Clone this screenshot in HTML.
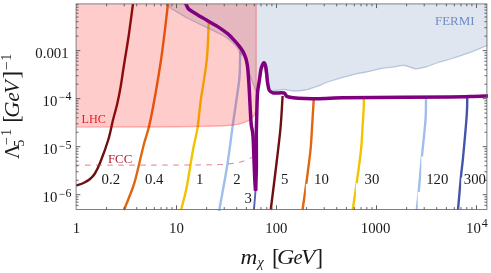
<!DOCTYPE html>
<html><head><meta charset="utf-8"><title>plot</title>
<style>
html,body{margin:0;padding:0;background:#fff;}
body{width:491px;height:273px;overflow:hidden;font-family:"Liberation Serif",serif;}
svg{display:block;position:absolute;left:0;top:0;}
text{font-family:"Liberation Serif",serif;}
</style></head><body>
<svg width="491" height="273" viewBox="0 0 491 273">
<rect x="0" y="0" width="491" height="273" fill="#ffffff"/>
<defs><clipPath id="cp"><rect x="76.1" y="3.9" width="412.1" height="207.0"/></clipPath></defs>
<g clip-path="url(#cp)">
<path d="M133.00 3.80 C132.30 9.00 130.17 25.63 128.80 35.00 C127.43 44.37 125.73 54.17 124.80 60.00 C123.87 65.83 123.90 65.50 123.20 70.00 C122.50 74.50 121.60 81.33 120.60 87.00 C119.60 92.67 118.47 98.50 117.20 104.00 C115.93 109.50 114.50 114.00 113.00 120.00 C111.50 126.00 110.33 132.92 108.20 140.00 C106.07 147.08 102.44 156.88 100.20 162.50 C97.96 168.12 96.49 170.96 94.75 173.75 C93.01 176.54 91.62 177.71 89.75 179.25 C87.88 180.79 85.79 181.94 83.50 183.00 C81.21 184.06 77.25 185.17 76.00 185.60" fill="none" stroke="#6e1010" stroke-width="2.4"/>
<path d="M168.00 3.80 C166.83 13.17 163.92 40.63 161.00 60.00 C158.08 79.37 153.38 105.83 150.50 120.00 C147.62 134.17 146.03 135.83 143.70 145.00 C141.37 154.17 138.33 167.83 136.50 175.00 C134.67 182.17 134.78 182.17 132.70 188.00 C130.62 193.83 125.45 206.33 124.00 210.00" fill="none" stroke="#e0660f" stroke-width="2.4"/>
<path d="M208.75 22.00 C208.42 28.33 208.07 47.00 206.75 60.00 C205.43 73.00 202.34 88.67 200.80 100.00 C199.26 111.33 198.80 119.67 197.50 128.00 C196.20 136.33 194.83 140.00 193.00 150.00 C191.17 160.00 188.50 178.00 186.50 188.00 C184.50 198.00 181.92 206.33 181.00 210.00" fill="none" stroke="#f2c400" stroke-width="2.4"/>
<path d="M240.50 51.00 C240.42 52.50 240.22 55.17 240.00 60.00 C239.78 64.83 240.40 69.17 239.20 80.00 C238.00 90.83 234.78 110.83 232.80 125.00 C230.82 139.17 229.43 151.50 227.30 165.00 C225.17 178.50 221.33 198.50 220.00 206.00 C218.67 213.50 219.42 209.33 219.30 210.00" fill="none" stroke="#9fbeeb" stroke-width="2.4"/>
<path d="M255.60 190.00 L253.90 210.00" fill="none" stroke="#5462b4" stroke-width="1.9"/>
<path d="M282.60 96.00 C282.25 101.33 281.55 116.50 280.50 128.00 C279.45 139.50 277.93 151.33 276.30 165.00 C274.67 178.67 271.63 202.50 270.70 210.00" fill="none" stroke="#6e1010" stroke-width="2.4"/>
<path d="M313.75 99.00 C313.46 103.83 312.54 119.50 312.00 128.00 C311.46 136.50 311.46 140.71 310.50 150.00 C309.54 159.29 307.58 173.75 306.25 183.75 C304.92 193.75 303.12 205.62 302.50 210.00" fill="none" stroke="#e0660f" stroke-width="2.4"/>
<path d="M363.70 98.00 C363.72 99.33 364.00 101.00 363.80 106.00 C363.60 111.00 362.97 120.67 362.50 128.00 C362.03 135.33 361.98 140.71 361.00 150.00 C360.02 159.29 357.98 173.75 356.60 183.75 C355.22 193.75 353.35 205.62 352.70 210.00" fill="none" stroke="#f2c400" stroke-width="2.4"/>
<path d="M426.00 98.00 C425.92 101.67 426.21 110.00 425.50 120.00 C424.79 130.00 422.88 146.17 421.75 158.00 C420.62 169.83 419.58 182.33 418.75 191.00 C417.92 199.67 417.08 206.83 416.75 210.00" fill="none" stroke="#9fbeeb" stroke-width="2.4"/>
<path d="M467.25 97.00 C467.17 100.00 467.46 104.83 466.75 115.00 C466.04 125.17 463.96 147.83 463.00 158.00 C462.04 168.17 461.83 167.33 461.00 176.00 C460.17 184.67 458.50 204.33 458.00 210.00" fill="none" stroke="#4454a8" stroke-width="2.4"/>
<rect x="305.85" y="183.85" width="8.00" height="30.00" fill="#ffffff"/>
<rect x="355.90" y="183.40" width="8.00" height="30.00" fill="#ffffff"/>
<rect x="421.30" y="156.40" width="5.00" height="35.20" fill="#ffffff"/>
<rect x="417.70" y="191.90" width="6.00" height="20.00" fill="#ffffff"/>
<rect x="461.30" y="177.60" width="2.40" height="34.00" fill="#ffffff"/>
<path d="M76.00 165.10 C88.33 165.10 128.83 165.13 150.00 165.10 C171.17 165.07 191.22 165.00 203.00 164.90 C214.78 164.80 215.87 164.73 220.70 164.50 C225.53 164.27 228.45 163.98 232.00 163.50 C235.55 163.02 238.88 162.52 242.00 161.60 C245.12 160.68 248.87 158.85 250.70 158.00 C252.53 157.15 252.62 156.75 253.00 156.50" fill="none" stroke="#cc3346" stroke-opacity="0.7" stroke-width="0.9" stroke-dasharray="5.5 5.5" stroke-dashoffset="1.8"/>
<path d="M167.00 3.80 C167.67 4.55 169.67 7.12 171.00 8.30 C172.33 9.48 173.50 10.00 175.00 10.90 C176.50 11.80 178.33 12.73 180.00 13.70 C181.67 14.67 182.98 15.57 185.00 16.70 C187.02 17.83 189.72 19.28 192.10 20.50 C194.48 21.72 196.92 22.87 199.30 24.00 C201.68 25.13 204.02 26.18 206.40 27.30 C208.78 28.42 211.22 29.53 213.60 30.70 C215.98 31.87 218.32 32.98 220.70 34.30 C223.08 35.62 225.75 37.05 227.90 38.60 C230.05 40.15 231.93 41.93 233.60 43.60 C235.27 45.27 236.80 46.95 237.90 48.60 C239.00 50.25 239.27 52.27 240.20 53.50 C241.13 54.73 242.53 54.75 243.50 56.00 C244.47 57.25 245.25 58.67 246.00 61.00 C246.75 63.33 247.17 67.17 248.00 70.00 C248.83 72.83 250.00 75.33 251.00 78.00 C252.00 80.67 253.17 83.83 254.00 86.00 C254.83 88.17 255.37 90.67 256.00 91.00 C256.63 91.33 257.13 90.17 257.80 88.00 C258.47 85.83 259.12 82.00 260.00 78.00 C260.88 74.00 261.92 63.33 263.10 64.00 C264.28 64.67 266.10 77.67 267.10 82.00 C268.10 86.33 267.78 88.58 269.10 90.00 C270.42 91.42 272.52 90.58 275.00 90.50 C277.48 90.42 281.00 89.42 284.00 89.50 C287.00 89.58 289.50 90.92 293.00 91.00 C296.50 91.08 300.92 90.79 305.00 90.00 C309.08 89.21 313.33 87.71 317.50 86.25 C321.67 84.79 323.75 83.26 330.00 81.25 C336.25 79.24 348.67 75.79 355.00 74.20 C361.33 72.61 363.75 72.62 368.00 71.70 C372.25 70.78 376.33 69.47 380.50 68.70 C384.67 67.93 389.04 67.63 393.00 67.10 C396.96 66.57 400.50 65.22 404.25 65.50 C408.00 65.78 411.96 68.50 415.50 68.75 C419.04 69.00 421.75 68.04 425.50 67.00 C429.25 65.96 433.42 63.96 438.00 62.50 C442.58 61.04 448.00 59.80 453.00 58.25 C458.00 56.70 462.25 55.36 468.00 53.20 C473.75 51.04 484.25 46.62 487.50 45.30 L486.9 3.9 L167.0 3.9 Z" fill="rgb(94,129,181)" fill-opacity="0.2" stroke="none"/>
<path d="M167.00 3.80 C167.67 4.55 169.67 7.12 171.00 8.30 C172.33 9.48 173.50 10.00 175.00 10.90 C176.50 11.80 178.33 12.73 180.00 13.70 C181.67 14.67 182.98 15.57 185.00 16.70 C187.02 17.83 189.72 19.28 192.10 20.50 C194.48 21.72 196.92 22.87 199.30 24.00 C201.68 25.13 204.02 26.18 206.40 27.30 C208.78 28.42 211.22 29.53 213.60 30.70 C215.98 31.87 218.32 32.98 220.70 34.30 C223.08 35.62 225.75 37.05 227.90 38.60 C230.05 40.15 231.93 41.93 233.60 43.60 C235.27 45.27 236.80 46.95 237.90 48.60 C239.00 50.25 239.27 52.27 240.20 53.50 C241.13 54.73 242.53 54.75 243.50 56.00 C244.47 57.25 245.25 58.67 246.00 61.00 C246.75 63.33 247.17 67.17 248.00 70.00 C248.83 72.83 250.00 75.33 251.00 78.00 C252.00 80.67 253.17 83.83 254.00 86.00 C254.83 88.17 255.37 90.67 256.00 91.00 C256.63 91.33 257.13 90.17 257.80 88.00 C258.47 85.83 259.12 82.00 260.00 78.00 C260.88 74.00 261.92 63.33 263.10 64.00 C264.28 64.67 266.10 77.67 267.10 82.00 C268.10 86.33 267.78 88.58 269.10 90.00 C270.42 91.42 272.52 90.58 275.00 90.50 C277.48 90.42 281.00 89.42 284.00 89.50 C287.00 89.58 289.50 90.92 293.00 91.00 C296.50 91.08 300.92 90.79 305.00 90.00 C309.08 89.21 313.33 87.71 317.50 86.25 C321.67 84.79 323.75 83.26 330.00 81.25 C336.25 79.24 348.67 75.79 355.00 74.20 C361.33 72.61 363.75 72.62 368.00 71.70 C372.25 70.78 376.33 69.47 380.50 68.70 C384.67 67.93 389.04 67.63 393.00 67.10 C396.96 66.57 400.50 65.22 404.25 65.50 C408.00 65.78 411.96 68.50 415.50 68.75 C419.04 69.00 421.75 68.04 425.50 67.00 C429.25 65.96 433.42 63.96 438.00 62.50 C442.58 61.04 448.00 59.80 453.00 58.25 C458.00 56.70 462.25 55.36 468.00 53.20 C473.75 51.04 484.25 46.62 487.50 45.30" fill="none" stroke="rgb(94,129,181)" stroke-opacity="0.38" stroke-width="1.3"/>
<path d="M76.1 3.9 L256.2 3.9 L256.2 108 C256.2 118 248 124.7 225 125.7 C200 126.6 150 127.0 76.1 127.1 Z" fill="rgb(255,0,0)" fill-opacity="0.2" stroke="none"/>
<path d="M256.2 3.9 L256.2 3.9 L256.2 108 C256.2 118 248 124.7 225 125.7 C200 126.6 150 127.0 76.1 127.1" fill="none" stroke="rgb(255,0,0)" stroke-opacity="0.27" stroke-width="1.4"/>
<path d="M185.60 3.30 C185.83 3.80 186.55 5.42 187.00 6.30 C187.45 7.18 187.75 7.93 188.30 8.60 C188.85 9.27 189.43 9.68 190.30 10.30 C191.17 10.92 192.00 11.37 193.50 12.30 C195.00 13.23 197.15 14.63 199.30 15.90 C201.45 17.17 204.02 18.52 206.40 19.90 C208.78 21.28 211.22 22.75 213.60 24.20 C215.98 25.65 218.32 26.98 220.70 28.60 C223.08 30.22 225.75 32.07 227.90 33.90 C230.05 35.73 231.82 37.70 233.60 39.60 C235.38 41.50 237.15 43.48 238.60 45.30 C240.05 47.12 241.30 48.88 242.30 50.50 C243.30 52.12 243.93 53.42 244.60 55.00 C245.27 56.58 245.78 57.83 246.30 60.00 C246.82 62.17 247.25 63.83 247.70 68.00 C248.15 72.17 248.57 78.00 249.00 85.00 C249.43 92.00 249.92 103.33 250.30 110.00 C250.68 116.67 250.85 120.67 251.30 125.00 C251.75 129.33 252.52 129.33 253.00 136.00 C253.48 142.67 253.90 157.67 254.20 165.00 C254.50 172.33 254.58 175.72 254.80 180.00 C255.02 184.28 255.38 188.92 255.50 190.70" fill="none" stroke="#800080" stroke-width="3.5" stroke-linejoin="round"/>
<path d="M255.70 190.70 C255.75 188.92 255.88 184.28 256.00 180.00 C256.12 175.72 256.35 172.33 256.40 165.00 C256.45 157.67 256.28 142.67 256.30 136.00 C256.32 129.33 256.38 130.17 256.50 125.00 C256.62 119.83 256.82 110.50 257.00 105.00 C257.18 99.50 257.20 96.17 257.60 92.00 C258.00 87.83 258.86 83.67 259.40 80.00 C259.94 76.33 260.35 72.50 260.85 70.00 C261.35 67.50 261.86 66.20 262.40 65.00 C262.94 63.80 263.55 62.55 264.10 62.80 C264.65 63.05 265.25 64.47 265.70 66.50 C266.15 68.53 266.48 72.25 266.80 75.00 C267.12 77.75 267.17 80.42 267.60 83.00 C268.03 85.58 268.45 88.83 269.40 90.50 C270.35 92.17 270.87 92.58 273.30 93.00 C275.73 93.42 281.43 92.33 284.00 93.00 C286.57 93.67 283.95 96.04 288.70 97.00 C293.45 97.96 303.53 98.62 312.50 98.75 C321.47 98.88 327.42 98.04 342.50 97.80 C357.58 97.56 385.08 97.45 403.00 97.30 C420.92 97.15 438.83 97.02 450.00 96.90 C461.17 96.78 463.63 96.75 470.00 96.60 C476.37 96.45 485.17 96.10 488.20 96.00" fill="none" stroke="#800080" stroke-width="3.5" stroke-linejoin="round"/>
</g>
<rect x="76.1" y="3.9" width="410.8" height="205.6" fill="none" stroke="#6c6c6c" stroke-width="0.85"/>
<path d="M106.60 209.50 v-2.40 M106.60 3.90 v2.40 M124.21 209.50 v-2.40 M124.21 3.90 v2.40 M136.71 209.50 v-2.40 M136.71 3.90 v2.40 M146.40 209.50 v-2.40 M146.40 3.90 v2.40 M154.32 209.50 v-2.40 M154.32 3.90 v2.40 M161.01 209.50 v-2.40 M161.01 3.90 v2.40 M166.81 209.50 v-2.40 M166.81 3.90 v2.40 M171.92 209.50 v-2.40 M171.92 3.90 v2.40 M176.50 209.50 v-4.20 M176.50 3.90 v4.20 M206.60 209.50 v-2.40 M206.60 3.90 v2.40 M224.21 209.50 v-2.40 M224.21 3.90 v2.40 M236.71 209.50 v-2.40 M236.71 3.90 v2.40 M246.40 209.50 v-2.40 M246.40 3.90 v2.40 M254.32 209.50 v-2.40 M254.32 3.90 v2.40 M261.01 209.50 v-2.40 M261.01 3.90 v2.40 M266.81 209.50 v-2.40 M266.81 3.90 v2.40 M271.92 209.50 v-2.40 M271.92 3.90 v2.40 M276.50 209.50 v-4.20 M276.50 3.90 v4.20 M306.60 209.50 v-2.40 M306.60 3.90 v2.40 M324.21 209.50 v-2.40 M324.21 3.90 v2.40 M336.71 209.50 v-2.40 M336.71 3.90 v2.40 M346.40 209.50 v-2.40 M346.40 3.90 v2.40 M354.32 209.50 v-2.40 M354.32 3.90 v2.40 M361.01 209.50 v-2.40 M361.01 3.90 v2.40 M366.81 209.50 v-2.40 M366.81 3.90 v2.40 M371.92 209.50 v-2.40 M371.92 3.90 v2.40 M376.50 209.50 v-4.20 M376.50 3.90 v4.20 M406.60 209.50 v-2.40 M406.60 3.90 v2.40 M424.21 209.50 v-2.40 M424.21 3.90 v2.40 M436.71 209.50 v-2.40 M436.71 3.90 v2.40 M446.40 209.50 v-2.40 M446.40 3.90 v2.40 M454.32 209.50 v-2.40 M454.32 3.90 v2.40 M461.01 209.50 v-2.40 M461.01 3.90 v2.40 M466.81 209.50 v-2.40 M466.81 3.90 v2.40 M471.92 209.50 v-2.40 M471.92 3.90 v2.40 M476.50 209.50 v-4.20 M476.50 3.90 v4.20 M76.10 205.36 h2.40 M486.85 205.36 h-2.40 M76.10 202.14 h2.40 M486.85 202.14 h-2.40 M76.10 199.35 h2.40 M486.85 199.35 h-2.40 M76.10 196.90 h2.40 M486.85 196.90 h-2.40 M76.10 194.70 h4.20 M486.85 194.70 h-4.20 M76.10 180.24 h2.40 M486.85 180.24 h-2.40 M76.10 171.78 h2.40 M486.85 171.78 h-2.40 M76.10 165.78 h2.40 M486.85 165.78 h-2.40 M76.10 161.13 h2.40 M486.85 161.13 h-2.40 M76.10 157.33 h2.40 M486.85 157.33 h-2.40 M76.10 154.11 h2.40 M486.85 154.11 h-2.40 M76.10 151.32 h2.40 M486.85 151.32 h-2.40 M76.10 148.87 h2.40 M486.85 148.87 h-2.40 M76.10 146.67 h4.20 M486.85 146.67 h-4.20 M76.10 132.21 h2.40 M486.85 132.21 h-2.40 M76.10 123.75 h2.40 M486.85 123.75 h-2.40 M76.10 117.75 h2.40 M486.85 117.75 h-2.40 M76.10 113.10 h2.40 M486.85 113.10 h-2.40 M76.10 109.30 h2.40 M486.85 109.30 h-2.40 M76.10 106.08 h2.40 M486.85 106.08 h-2.40 M76.10 103.29 h2.40 M486.85 103.29 h-2.40 M76.10 100.84 h2.40 M486.85 100.84 h-2.40 M76.10 98.64 h4.20 M486.85 98.64 h-4.20 M76.10 84.18 h2.40 M486.85 84.18 h-2.40 M76.10 75.72 h2.40 M486.85 75.72 h-2.40 M76.10 69.72 h2.40 M486.85 69.72 h-2.40 M76.10 65.07 h2.40 M486.85 65.07 h-2.40 M76.10 61.27 h2.40 M486.85 61.27 h-2.40 M76.10 58.05 h2.40 M486.85 58.05 h-2.40 M76.10 55.26 h2.40 M486.85 55.26 h-2.40 M76.10 52.81 h2.40 M486.85 52.81 h-2.40 M76.10 50.61 h4.20 M486.85 50.61 h-4.20 M76.10 36.15 h2.40 M486.85 36.15 h-2.40 M76.10 27.69 h2.40 M486.85 27.69 h-2.40 M76.10 21.69 h2.40 M486.85 21.69 h-2.40 M76.10 17.04 h2.40 M486.85 17.04 h-2.40 M76.10 13.24 h2.40 M486.85 13.24 h-2.40 M76.10 10.02 h2.40 M486.85 10.02 h-2.40 M76.10 7.23 h2.40 M486.85 7.23 h-2.40 M76.10 4.78 h2.40 M486.85 4.78 h-2.40" fill="none" stroke="#505050" stroke-width="0.9"/>
<g opacity="0.999">
<text transform="translate(76.40,232.70) scale(0.950,1)" font-size="15.60" text-anchor="middle" fill="#1a1a1a" >1</text>
<text transform="translate(176.40,232.70) scale(0.950,1)" font-size="15.60" text-anchor="middle" fill="#1a1a1a" >10</text>
<text transform="translate(276.40,232.70) scale(0.950,1)" font-size="15.60" text-anchor="middle" fill="#1a1a1a" >100</text>
<text transform="translate(375.60,232.70) scale(0.950,1)" font-size="15.60" text-anchor="middle" fill="#1a1a1a" >1000</text>
<text transform="translate(466.00,232.70) scale(0.950,1)" font-size="15.60" text-anchor="start" fill="#1a1a1a" >10</text>
<text x="481.82" y="227.10" font-size="12.00" fill="#1a1a1a">4</text>
<text transform="translate(68.60,58.30) scale(0.950,1)" font-size="15.60" text-anchor="end" fill="#1a1a1a" >0.001</text>
<text transform="translate(42.60,105.70) scale(0.950,1)" font-size="15.60" text-anchor="start" fill="#1a1a1a" >10</text>
<text transform="translate(59.02,101.20) scale(0.92,1)" font-size="12.00" fill="#1a1a1a">−</text>
<text x="65.50" y="100.10" font-size="12.00" fill="#1a1a1a">4</text>
<text transform="translate(42.60,154.40) scale(0.950,1)" font-size="15.60" text-anchor="start" fill="#1a1a1a" >10</text>
<text transform="translate(59.02,149.90) scale(0.92,1)" font-size="12.00" fill="#1a1a1a">−</text>
<text x="65.50" y="148.80" font-size="12.00" fill="#1a1a1a">5</text>
<text transform="translate(42.60,202.40) scale(0.950,1)" font-size="15.60" text-anchor="start" fill="#1a1a1a" >10</text>
<text transform="translate(59.02,197.90) scale(0.92,1)" font-size="12.00" fill="#1a1a1a">−</text>
<text x="65.50" y="196.80" font-size="12.00" fill="#1a1a1a">6</text>
<text transform="translate(101.60,184.00) scale(0.950,1)" font-size="15.60" text-anchor="start" fill="#1a1a1a" >0.2</text>
<text transform="translate(145.00,184.00) scale(0.950,1)" font-size="15.60" text-anchor="start" fill="#1a1a1a" >0.4</text>
<text transform="translate(195.90,183.90) scale(0.950,1)" font-size="15.60" text-anchor="start" fill="#1a1a1a" >1</text>
<text transform="translate(233.30,183.90) scale(0.950,1)" font-size="15.60" text-anchor="start" fill="#1a1a1a" >2</text>
<text transform="translate(244.40,203.40) scale(0.950,1)" font-size="15.60" text-anchor="start" fill="#1a1a1a" >3</text>
<text transform="translate(281.00,183.90) scale(0.950,1)" font-size="15.60" text-anchor="start" fill="#1a1a1a" >5</text>
<text transform="translate(314.00,183.90) scale(0.950,1)" font-size="15.60" text-anchor="start" fill="#1a1a1a" >10</text>
<text transform="translate(364.50,183.90) scale(0.950,1)" font-size="15.60" text-anchor="start" fill="#1a1a1a" >30</text>
<text transform="translate(426.20,183.90) scale(0.950,1)" font-size="15.60" text-anchor="start" fill="#1a1a1a" >120</text>
<text transform="translate(463.80,183.90) scale(0.950,1)" font-size="15.60" text-anchor="start" fill="#1a1a1a" >300</text>
<text transform="translate(81.50,123.00) scale(1.000,1)" font-size="12.20" text-anchor="start" fill="#f4161e" >LHC</text>
<text transform="translate(107.90,163.40) scale(1.000,1)" font-size="12.90" text-anchor="start" fill="#b41e2e" >FCC</text>
<text transform="translate(434.90,24.70) scale(1.000,1)" font-size="13.00" text-anchor="start" fill="rgb(110,142,196)" >FERMI</text>
<g fill="#1a1a1a">
<text x="240.5" y="263.9" font-size="20.5" font-style="italic" textLength="16.8" lengthAdjust="spacingAndGlyphs">m</text>
<text transform="translate(257.60,266.80) scale(1.000,1)" font-size="14.2" font-style="italic">χ</text>
<text transform="translate(271.90,265.00) scale(1.000,1)" font-size="22.8">[</text>
<text transform="translate(277.00,263.90) scale(1.170,1)" font-size="20.5" font-style="italic">G</text>
<text transform="translate(293.60,263.90) scale(1.000,1)" font-size="20.5" font-style="italic">e</text>
<text transform="translate(300.90,263.90) scale(1.150,1)" font-size="20.5" font-style="italic">V</text>
<text transform="translate(315.40,265.00) scale(1.000,1)" font-size="22.8">]</text>
</g>
<g transform="translate(18.5,159.0) rotate(-90)" fill="#1a1a1a">
<text transform="translate(0.00,0.00) scale(1.000,1)" font-size="20.5">Λ</text>
<text transform="translate(12.30,5.00) scale(1.000,1)" font-size="14.2">5</text>
<text transform="translate(13.60,-8.00) scale(1.000,1)" font-size="14.2">−</text>
<text transform="translate(23.00,-8.00) scale(1.000,1)" font-size="14.2">1</text>
<text transform="translate(36.20,0.95) scale(1.000,1)" font-size="22.8">[</text>
<text transform="translate(41.30,0.00) scale(1.100,1)" font-size="20.5" font-style="italic">G</text>
<text transform="translate(57.60,0.00) scale(1.000,1)" font-size="20.5" font-style="italic">e</text>
<text transform="translate(65.60,0.00) scale(1.050,1)" font-size="20.5" font-style="italic">V</text>
<text transform="translate(80.60,0.95) scale(1.000,1)" font-size="22.8">]</text>
<text transform="translate(88.60,-8.00) scale(1.120,1)" font-size="14.2">−</text>
<text transform="translate(98.20,-8.00) scale(1.000,1)" font-size="14.2">1</text>
</g>
</g>
</svg></body></html>
